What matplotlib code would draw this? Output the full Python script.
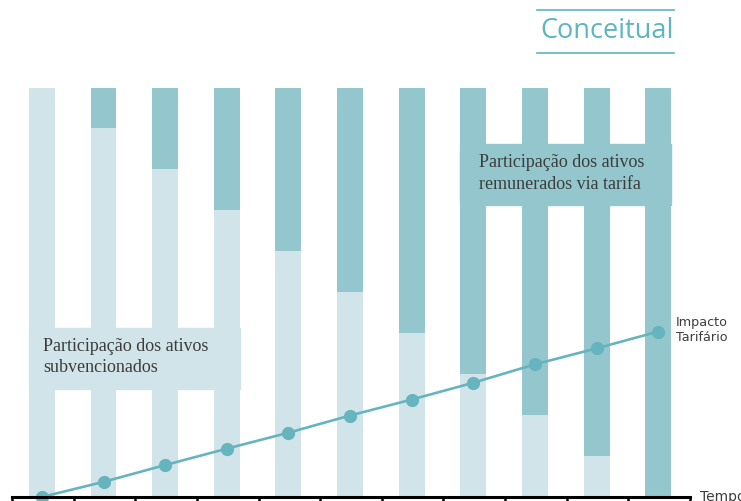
import matplotlib.pyplot as plt
import matplotlib.patches as patches
from matplotlib.lines import Line2D
import numpy as np

# share of subsidised assets (light) vs tariff-funded assets (dark), in %
periods = list(range(11))
subsidised = [100, 90, 80, 70, 60, 50, 40, 30, 20, 10, 0]
tariff = [0, 10, 20, 30, 40, 50, 60, 70, 80, 90, 100]
# tariff impact line (same scale, %)
impact = [0, 3.7, 7.8, 11.8, 15.7, 19.9, 23.8, 27.9, 32.4, 36.3, 40.4]

light = "#d0e4e9"
dark = "#93c7cd"
line_col = "#66b4be"
text_col = "#3c3c3c"

fig = plt.figure(figsize=(7.41, 5.01), dpi=100)
ax = fig.add_axes([12 / 741, 4 / 501, 678 / 741, 409.5 / 501])

# bars sit a touch left of the slot centre in the original
xpos = np.array(periods) - 0.015
bw = 0.42
ax.bar(xpos, subsidised, width=bw, color=light, zorder=1)
ax.bar(xpos, tariff, width=bw, bottom=subsidised, color=dark, zorder=1)

# label boxes, same colour as the bars they describe
ax.add_patch(patches.Rectangle((xpos[0] - bw / 2, 26.4), 3 + bw, 14.9, color=light, zorder=2))
ax.add_patch(patches.Rectangle((xpos[7] - bw / 2, 71.3), 3 + bw, 14.9, color=dark, zorder=2))
ax.text(0.0, 34.2, "Participação dos ativos\nsubvencionados", fontsize=13,
        family="Liberation Serif", color=text_col, va="center", linespacing=1.32, zorder=3)
ax.text(7.07, 79.0, "Participação dos ativos\nremunerados via tarifa", fontsize=13,
        family="Liberation Serif", color=text_col, va="center", linespacing=1.32, zorder=3)

ax.plot(xpos, impact, color=line_col, lw=1.9, marker="o", markersize=8.5,
        clip_on=False, zorder=4)
ax.text(10.27, impact[-1] + 0.5, "Impacto\nTarifário", fontsize=9.2, color=text_col,
        va="center", ha="left", linespacing=1.2)

ax.set_xlim(-0.5, 10.5)
ax.set_ylim(0, 100)
for s in ["top", "right", "left"]:
    ax.spines[s].set_visible(False)
ax.spines["bottom"].set_linewidth(2.2)
ax.spines["bottom"].set_zorder(5)
ax.set_xticks(np.arange(-0.5, 11, 1))
ax.set_xticklabels([])
ax.set_yticks([])
ax.tick_params(axis="x", direction="out", length=5, width=1.8, color="black")
ax.text(10.66, 0, "Tempo", fontsize=10, color=text_col, va="center", ha="left", clip_on=False)

# title with rules above and below
fig.text(607 / 741, 1 - 31 / 501, "Conceitual", fontsize=19.5, family="Open Sans",
         color="#5db5c0", ha="center", va="center")
for yp in (10, 53):
    fig.add_artist(Line2D([537 / 741, 674 / 741], [1 - yp / 501, 1 - yp / 501],
                          color="#5db5c0", lw=1.2))

fig.savefig("out.png", dpi=100)
